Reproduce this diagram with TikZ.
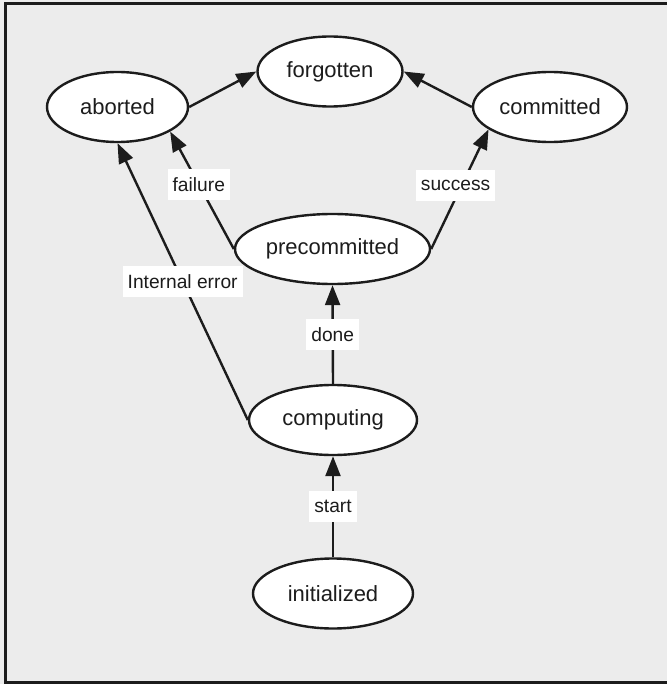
\documentclass[tikz,border=0pt]{standalone}
\usepackage{fontspec}
\setmainfont{Liberation Sans}
\usetikzlibrary{arrows.meta,shapes.geometric}
\definecolor{paneBg}{RGB}{236,236,236}
\definecolor{inkC}{RGB}{28,28,28}

\begin{document}
\begin{tikzpicture}[x=0.5pt,y=-0.5pt,>={Triangle[length=10pt,width=7.5pt]},
  state/.style={ellipse,draw=inkC,line width=1.2pt,fill=white,text=inkC,inner sep=0pt,
    minimum height=35pt,font=\fontsize{11}{13}\selectfont},
  lbl/.style={fill=white,text=inkC,inner xsep=2.5pt,inner ysep=0pt,minimum height=15.5pt,
    font=\fontsize{9.6}{11}\selectfont},
  trans/.style={->,line width=1.2pt,draw=inkC}]
\useasboundingbox (0,0) rectangle (667,684);
\fill[paneBg] (0,0) rectangle (667,684);
\draw[line width=1.25pt,inkC] (5.3,3.3) rectangle (680,682.7);

% states of a transaction
\node[state,minimum width=72.5pt] (forgotten) at (330,71.5) {forgotten};
\node[state,minimum width=70.5pt] (aborted) at (117.5,107) {aborted};
\node[state,minimum width=77pt] (committed) at (550,107) {committed};
\node[state,minimum width=97.5pt] (precommitted) at (332.5,249) {precommitted};
\node[state,minimum width=84pt] (computing) at (333,420) {computing};
\node[state,minimum width=80pt] (initialized) at (333,593.5) {initialized};

% transitions
\draw[trans] (aborted.east) -- (forgotten.west);
\draw[trans] (committed.west) -- (forgotten.east);
\draw[trans] (precommitted.west) -- node[lbl,pos=0.55] {failure} (aborted.-25);
\draw[trans] (computing.west) -- node[lbl] {Internal error} (aborted.south);
\draw[trans] (precommitted.east) -- node[lbl,pos=0.53,xshift=-3pt] {success} (committed.200);
\draw[trans] (computing.north) -- node[lbl] {done} (precommitted.south);
\draw[trans] (initialized.north) -- node[lbl] {start} (computing.south);
\end{tikzpicture}
\end{document}
